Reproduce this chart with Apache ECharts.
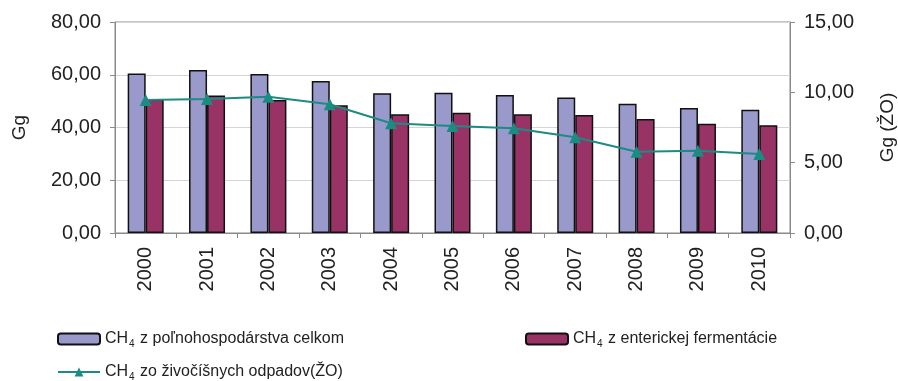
<!DOCTYPE html>
<html><head><meta charset="utf-8">
<script src="https://cdn.jsdelivr.net/npm/echarts@6/dist/echarts.min.js"></script>
<style>html,body{margin:0;padding:0;background:#fff}#c{width:898px;height:381px}</style>
</head><body><div id="c"></div>
<script>
const years = ['2000','2001','2002','2003','2004','2005','2006','2007','2008','2009','2010'];
const agriTotal = [60.5, 61.8, 60.3, 57.6, 53.0, 53.2, 52.3, 51.4, 49.0, 47.4, 46.7];
const enteric = [50.6, 52.1, 50.4, 48.4, 45.0, 45.6, 45.0, 44.7, 43.2, 41.4, 40.9];
const manure = [9.45, 9.52, 9.69, 9.15, 7.80, 7.60, 7.44, 6.80, 5.78, 5.85, 5.61];
const leftTicks = [0, 20, 40, 60, 80];
const rightTicks = [0, 5, 10, 15];

const names = ['CH4 z poľnohospodárstva celkom', 'CH4 z enterickej fermentácie', 'CH4 zo živočíšnych odpadov(ŽO)'];
const fmtNum = v => v.toFixed(2).replace('.', ',');
const legendFmt = n => '{n|CH}{s|4}{n|' + n.slice(3) + '}';
const FONT = 'Liberation Sans';
const rich = {
  n: {fontSize: 16, color: '#222', fontFamily: FONT},
  s: {fontSize: 10, color: '#222', fontFamily: FONT, padding: [10, 1, 0, 1]}
};
const legendBase = {
  itemWidth: 42, itemHeight: 11,
  formatter: legendFmt, textStyle: {rich: rich}, selectedMode: false
};
const axisText = {fontSize: 20, color: '#222', fontFamily: FONT};

const chart = echarts.init(document.getElementById('c'));
chart.setOption({
  animation: false,
  backgroundColor: '#fff',
  grid: {left: 115, right: 108, top: 22, bottom: 148, show: true, borderColor: '#8a8a8a', borderWidth: 1,
         containLabel: false, outerBoundsMode: 'none'},
  legend: [
    Object.assign({}, legendBase, {left: 52, top: 326, data: [names[0]]}),
    Object.assign({}, legendBase, {left: 520, top: 326, data: [names[1]]}),
    Object.assign({}, legendBase, {left: 52, top: 359, data: [names[2]]})
  ],
  xAxis: {
    type: 'category', data: years, boundaryGap: true,
    axisLine: {lineStyle: {color: '#8a8a8a'}},
    axisTick: {show: true, alignWithLabel: false, length: 5, lineStyle: {color: '#8a8a8a'}},
    axisLabel: Object.assign({rotate: 90, margin: 14}, axisText)
  },
  yAxis: [
    {
      type: 'value', min: leftTicks[0], max: leftTicks[leftTicks.length - 1], interval: 20,
      name: 'Gg', nameLocation: 'middle', nameGap: 86, nameRotate: 90,
      nameTextStyle: {fontSize: 19, color: '#222', fontFamily: FONT},
      axisLine: {show: true, lineStyle: {color: '#8a8a8a'}},
      axisTick: {show: true, length: 5, lineStyle: {color: '#8a8a8a'}},
      axisLabel: Object.assign({formatter: fmtNum, margin: 14}, axisText),
      splitLine: {show: true, lineStyle: {color: '#d4d4d4'}}
    },
    {
      type: 'value', min: rightTicks[0], max: rightTicks[rightTicks.length - 1], interval: 5,
      name: 'Gg (ŽO)', nameLocation: 'middle', nameGap: 88, nameRotate: 90,
      nameTextStyle: {fontSize: 19, color: '#222', fontFamily: FONT},
      axisLine: {show: true, lineStyle: {color: '#8a8a8a'}},
      axisTick: {show: true, length: 5, lineStyle: {color: '#8a8a8a'}},
      axisLabel: Object.assign({formatter: fmtNum, margin: 14}, axisText),
      splitLine: {show: false}
    }
  ],
  series: [
    {
      name: names[0], type: 'bar', data: agriTotal, barWidth: 18, barGap: '0%',
      itemStyle: {color: '#9999cc', borderColor: '#111', borderWidth: 1.5}
    },
    {
      name: names[1], type: 'bar', data: enteric, barWidth: 18, barGap: '0%',
      itemStyle: {color: '#993366', borderColor: '#111', borderWidth: 1.5}
    },
    {
      name: names[2], type: 'line', yAxisIndex: 1, data: manure,
      symbol: 'triangle', symbolSize: 12, z: 5,
      lineStyle: {color: '#1b8c82', width: 2},
      itemStyle: {color: '#1b8c82'}
    }
  ]
});
</script></body></html>
